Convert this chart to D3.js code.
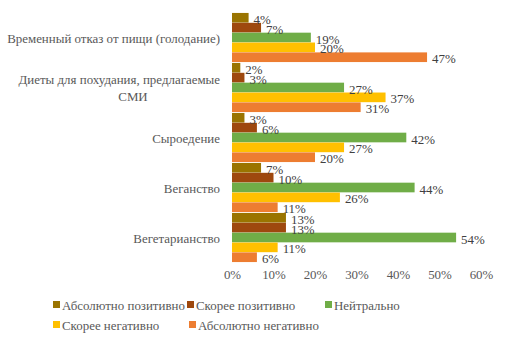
<!DOCTYPE html>
<html><head><meta charset="utf-8">
<script src="https://cdn.jsdelivr.net/npm/d3@7"></script>
</head><body style="margin:0">
<svg id="c" width="505" height="342" font-family="Liberation Serif, serif"></svg>
<script>
const categories = [
  ["Временный отказ от пищи (голодание)"],
  ["Диеты для похудания, предлагаемые", "СМИ"],
  ["Сыроедение"],
  ["Веганство"],
  ["Вегетарианство"]
];
const seriesNames = ["Абсолютно позитивно","Скорее позитивно","Нейтрально","Скорее негативно","Абсолютно негативно"];
const seriesColors = ["#9a7400","#9e480e","#70ad47","#ffc000","#ed7d31"];
const absPos  = [4, 2, 3, 7, 13];
const ratherPos = [7, 3, 6, 10, 13];
const neutral = [19, 27, 42, 44, 54];
const ratherNeg = [20, 37, 27, 26, 11];
const absNeg = [47, 31, 20, 11, 6];
const xTicks = [0, 10, 20, 30, 40, 50, 60];

const series = [absPos, ratherPos, neutral, ratherNeg, absNeg];
const svg = d3.select("#c");
const FONT = '"Liberation Serif", serif';
const pLeft = 232, pRight = 481, pTop = 12.5, pBottom = 262.5;

// fit font size so the longest category label is ~213px wide as in the reference
const probe = svg.append("text").style("font-family", FONT).attr("font-size", 20).text(categories[0][0]);
const w20 = probe.node().getComputedTextLength();
probe.remove();
const fs = Math.min(15, 20 * 213 / w20);

const x = d3.scaleLinear().domain([0, 60]).range([pLeft, pRight]);
const y0 = d3.scaleBand().domain(d3.range(categories.length)).range([pTop, pBottom]).paddingInner(0.01).paddingOuter(0.005);
const y1 = d3.scaleBand().domain(d3.range(series.length)).range([0, y0.bandwidth()]).padding(0.02);

const g = svg.append("g");
categories.forEach((cat, ci) => {
  series.forEach((vals, si) => {
    const yy = y0(ci) + y1(si);
    g.append("rect").attr("x", x(0)).attr("y", yy)
      .attr("width", x(vals[ci]) - x(0)).attr("height", y1.bandwidth())
      .attr("fill", seriesColors[si]);
  });
});
categories.forEach((cat, ci) => {
  series.forEach((vals, si) => {
    const yy = y0(ci) + y1(si) + y1.bandwidth()/2;
    g.append("text").attr("x", x(vals[ci]) + 5).attr("y", yy + 6)
      .style("font-family", FONT).attr("font-size", fs).attr("fill", "#404040")
      .text(vals[ci] + "%");
  });
  const cy = y0(ci) + y0.bandwidth()/2;
  const n = cat.length;
  cat.forEach((line, li) => {
    g.append("text").attr("x", n > 1 && li > 0 ? 133 : 220).attr("y", cy + 5 + (li - (n-1)/2) * 17)
      .attr("text-anchor", n > 1 && li > 0 ? "middle" : "end")
      .style("font-family", FONT).attr("font-size", fs).attr("fill", "#595959")
      .text(line);
  });
});

const axis = d3.axisBottom(x).tickValues(xTicks).tickSize(0).tickPadding(0).tickFormat(d => d + "%");
const ax = svg.append("g").attr("transform", `translate(0,${pBottom})`).call(axis);
ax.select(".domain").remove();
ax.attr("font-family", null).attr("font-size", null);
ax.selectAll("text").style("font-family", FONT).attr("font-size", fs).attr("fill", "#595959").attr("dy", "1.3em");

const legendPos = [[53, 305], [187, 305], [325, 305], [53, 325], [189, 325]];
seriesNames.forEach((name, i) => {
  const [lx, ly] = legendPos[i];
  svg.append("rect").attr("x", lx).attr("y", ly - 4).attr("width", 7).attr("height", 7).attr("fill", seriesColors[i]);
  svg.append("text").attr("x", lx + 9).attr("y", ly + 4.5)
    .style("font-family", FONT).attr("font-size", fs).attr("fill", "#595959").text(name);
});
</script>
</body></html>
